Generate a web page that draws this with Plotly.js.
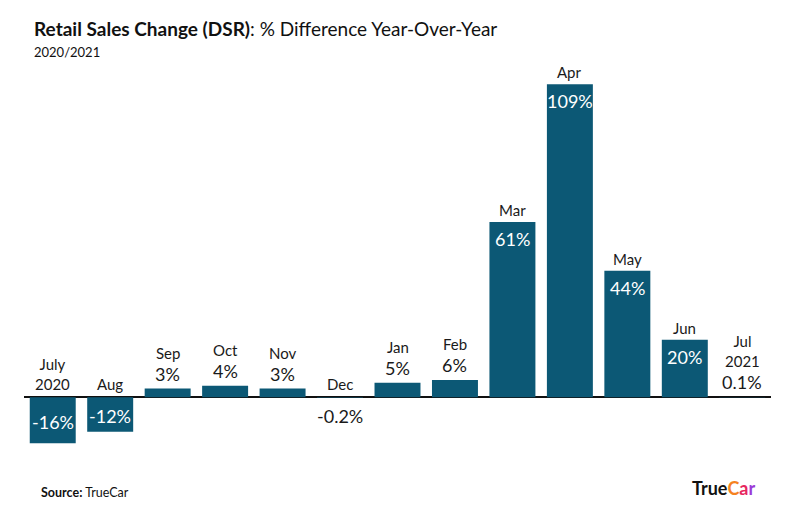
<!DOCTYPE html>
<html>
<head>
<meta charset="utf-8">
<script src="https://cdn.plot.ly/plotly-3.0.1.min.js"></script>
<style>
  html, body { margin: 0; padding: 0; background: #ffffff; }
  #chart { width: 800px; height: 532px; }
</style>
</head>
<body>
<div id="chart"></div>
<script>
// ---- data ----
var categories = ['July<br>2020', 'Aug', 'Sep', 'Oct', 'Nov', 'Dec', 'Jan', 'Feb', 'Mar', 'Apr', 'May', 'Jun', 'Jul<br>2021'];
var values = [-16, -12, 3, 4, 3, -0.2, 5, 6, 61, 109, 44, 20, 0.1];
var valueLabels = ['-16%', '-12%', '3%', '4%', '3%', '-0.2%', '5%', '6%', '61%', '109%', '44%', '20%', '0.1%'];

var barColor = '#0c5875';
var FONT = 'Lato, "Noto Sans", sans-serif';

var trace = {
  type: 'bar',
  x: categories,
  y: values,
  marker: { color: barColor },
  hoverinfo: 'skip'
};

var annotations = [];
for (var i = 0; i < categories.length; i++) {
  var v = values[i];
  var monthAnn = {
    x: categories[i], xref: 'x', yref: 'y',
    text: categories[i], showarrow: false,
    font: { family: FONT, size: 15, color: '#1a1a1a' },
    xanchor: 'center'
  };
  var valAnn = {
    x: categories[i], xref: 'x', yref: 'y',
    text: valueLabels[i], showarrow: false,
    font: { family: FONT, size: 18, color: '#1a1a1a' },
    xanchor: 'center', yanchor: 'middle'
  };
  if (v >= 15) {
    monthAnn.y = v; monthAnn.yanchor = 'bottom'; monthAnn.yshift = 1;
    valAnn.y = v; valAnn.yshift = -17; valAnn.font.color = '#ffffff';
  } else if (v >= 0) {
    valAnn.y = v; valAnn.yshift = 15;
    monthAnn.y = v; monthAnn.yanchor = 'bottom'; monthAnn.yshift = 25;
  } else {
    monthAnn.y = 0; monthAnn.yanchor = 'bottom'; monthAnn.yshift = 2;
    if (v < -5) {
      valAnn.y = v / 2; valAnn.yshift = -2; valAnn.font.color = '#ffffff';
    } else {
      valAnn.y = 0; valAnn.yshift = -19;
    }
  }
  annotations.push(monthAnn, valAnn);
}

// titles / footer
annotations.push({
  xref: 'paper', yref: 'paper', x: 0, y: 1,
  xshift: 8, yshift: 25,
  xanchor: 'left', yanchor: 'bottom', showarrow: false,
  text: '<b>Retail Sales Change (DSR)</b>: % Difference Year-Over-Year',
  font: { family: FONT, size: 19, color: '#111111' }
});
annotations.push({
  xref: 'paper', yref: 'paper', x: 0, y: 1,
  xshift: 8, yshift: 5,
  xanchor: 'left', yanchor: 'bottom', showarrow: false,
  text: '2020/2021',
  font: { family: FONT, size: 13, color: '#111111' }
});
annotations.push({
  xref: 'paper', yref: 'paper', x: 0, y: 0,
  xshift: 15, yshift: -23,
  xanchor: 'left', yanchor: 'middle', showarrow: false,
  text: '<b>Source:</b> TrueCar',
  font: { family: FONT, size: 12.5, color: '#111111' }
});
annotations.push({
  xref: 'paper', yref: 'paper', x: 1, y: 0,
  xshift: -13, yshift: -19,
  xanchor: 'right', yanchor: 'middle', showarrow: false,
  text: '<b>True<span style="color:#f5821f">C</span><span style="color:#e7265e">a</span><span style="color:#9b3ad6">r</span></b>',
  font: { family: FONT, size: 18, color: '#111111' }
});

var layout = {
  width: 800, height: 532,
  margin: { l: 24, r: 29, t: 67, b: 63, pad: 0 },
  paper_bgcolor: '#ffffff',
  plot_bgcolor: '#ffffff',
  showlegend: false,
  bargap: 0.2,
  xaxis: {
    type: 'category',
    showticklabels: false, showgrid: false, zeroline: false,
    showline: false, ticks: ''
  },
  yaxis: {
    range: [-25, 115],
    showticklabels: false, showgrid: false,
    zeroline: true, zerolinecolor: '#111111', zerolinewidth: 2,
    showline: false, ticks: ''
  },
  annotations: annotations
};

Plotly.newPlot('chart', [trace], layout, { displayModeBar: false, staticPlot: true });
</script>
</body>
</html>
